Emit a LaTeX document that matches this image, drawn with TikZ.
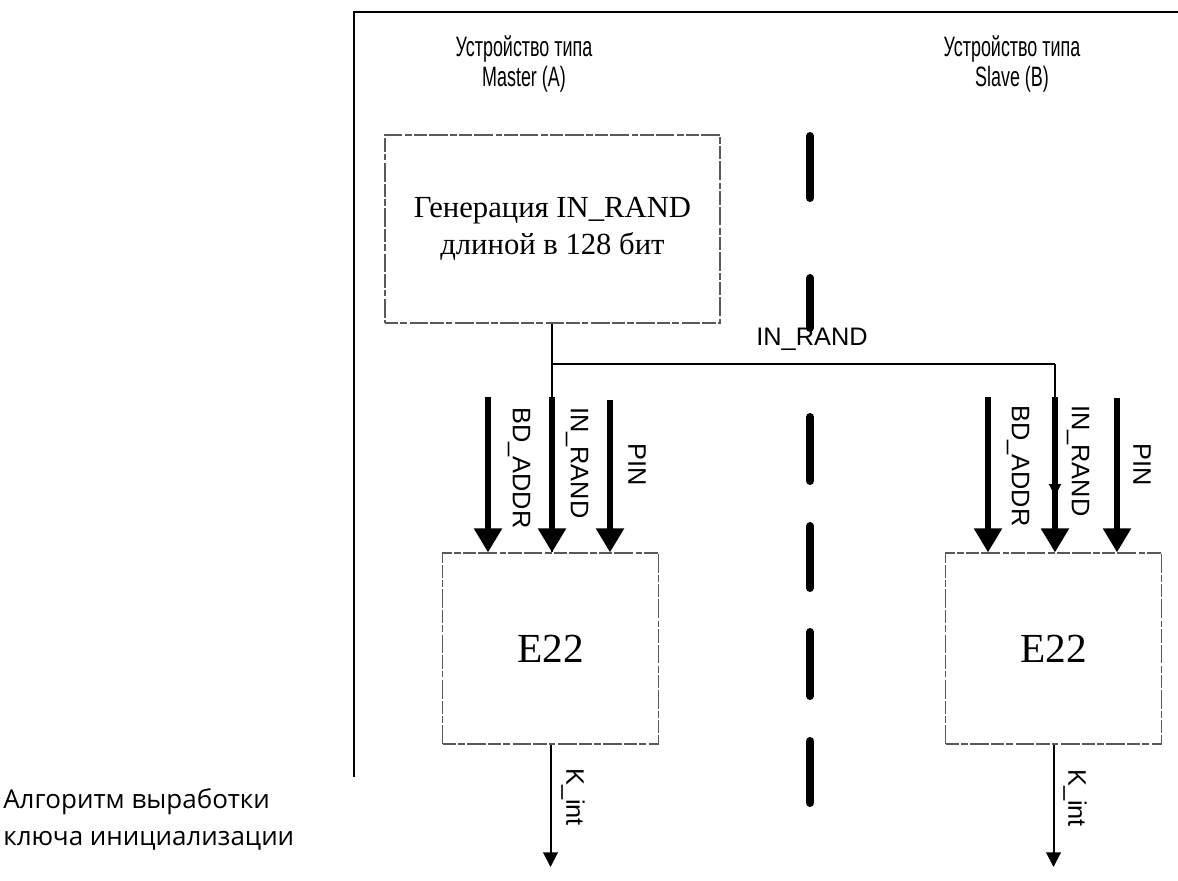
\documentclass[tikz,border=0pt]{standalone}
\usepackage{graphicx}
\usepackage{fontspec}
\setmainfont{Liberation Serif}
\setsansfont{Liberation Sans}
\newfontfamily\capfont{Open Sans}
\usetikzlibrary{arrows.meta}
\begin{document}
\begin{tikzpicture}[x=0.75pt,y=-0.75pt,
  frameline/.style={line width=1.5pt},
  dbox/.style={draw=black!65, line width=0.8pt, dash pattern=on 10pt off 1.5pt on 5pt off 2pt on 14pt off 1.5pt, inner sep=0pt},
  genbox/.style={dbox, minimum width=251.25pt, minimum height=141pt, align=center, font=\fontsize{23}{27.5}\selectfont},
  ebox/.style={dbox, minimum width=162pt, minimum height=143.25pt, font=\fontsize{31}{33}\selectfont},
  conn/.style={line width=1.5pt},
  thickarrow/.style={line width=4.5pt, -{Triangle[width=20pt,length=18pt]}},
  thinarrow/.style={line width=1.5pt, -{Triangle[width=11pt,length=11pt]}},
  smallarrow/.style={line width=1.5pt, -{Triangle[width=9pt,length=9pt]}},
  cline/.style={line width=6pt, line cap=round},
  vlabel/.style={font=\sffamily\fontsize{19}{22}\selectfont, rotate=-90, inner sep=0pt},
  hlabel/.style={font=\sffamily\fontsize{19}{22}\selectfont, inner sep=0pt},
  title/.style={font=\sffamily\fontsize{21}{22.5}\selectfont, align=center, inner sep=0pt},
  caption/.style={font=\capfont\fontsize{19.5}{27.75}\selectfont, align=left, inner sep=0pt}
]
\useasboundingbox (0,0) rectangle (1178,881);

% frame
\coordinate (fTR) at (1178,12);
\coordinate (fTL) at (354,12);
\coordinate (fBL) at (354,777);
\draw[frameline] (fTR) -- (fTL) -- (fBL);

% titles
\node[title] (tA) at (524,64) {\scalebox{0.64}[1]{Устройство типа}\\\scalebox{0.64}[1]{Master (A)}};
\node[title] (tB) at (1012,64) {\scalebox{0.64}[1]{Устройство типа}\\\scalebox{0.64}[1]{Slave (B)}};

% boxes
\node[genbox] (gen) at (552.5,229) {Генерация IN\_RAND\\длиной в 128 бит};
\node[ebox] (eA) at (550.5,648.5) {E22};
\node[ebox] (eB) at (1053.5,648.5) {E22};

% central dashed divider
\coordinate (c1a) at (810,136); \coordinate (c1b) at (810,198);
\coordinate (c2a) at (810,278); \coordinate (c2b) at (810,328);
\coordinate (c3a) at (810,417); \coordinate (c3b) at (810,481);
\coordinate (c4a) at (810,526); \coordinate (c4b) at (810,588);
\coordinate (c5a) at (810,632); \coordinate (c5b) at (810,696);
\coordinate (c6a) at (810,741); \coordinate (c6b) at (810,803);
\draw[cline] (c1a) -- (c1b);
\draw[cline] (c2a) -- (c2b);
\draw[cline] (c3a) -- (c3b);
\draw[cline] (c4a) -- (c4b);
\draw[cline] (c5a) -- (c5b);
\draw[cline] (c6a) -- (c6b);

% IN_RAND distribution
\coordinate (jA) at (552,364);
\coordinate (jB) at (1055,364);
\coordinate (jBend) at (1055,496);
\draw[conn] (gen.south -| jA) -- (jA) -- (eA.north -| jA);
\node[hlabel] (lIN) at (812,339) {IN\_RAND};

% left inputs
\coordinate (bdA) at (488,397);
\coordinate (inA) at (552,397);
\coordinate (pinA) at (610,400);
\draw[thickarrow] (bdA) -- (eA.north -| bdA);
\draw[thickarrow] (inA) -- (eA.north -| inA);
\draw[thickarrow] (pinA) -- (eA.north -| pinA);
\node[vlabel, anchor=west] (lbdA) at (519,407) {BD\_ADDR};
\node[vlabel, anchor=west] (linA) at (577,407) {IN\_RAND};
\node[vlabel] (lpinA) at (637,465) {PIN};

% right inputs
\coordinate (bdB) at (988,397);
\coordinate (inB) at (1055,397);
\coordinate (pinB) at (1117,398);
\draw[thickarrow] (bdB) -- (eB.north -| bdB);
\draw[thickarrow] (inB) -- (eB.north -| inB);
\draw[thickarrow] (pinB) -- (eB.north -| pinB);
\draw[conn] (jA) -- (jB);
\draw[smallarrow] (jB) -- (jBend);
\node[vlabel, anchor=west] (lbdB) at (1018,405) {BD\_ADDR};
\node[vlabel, anchor=west] (linB) at (1078,405) {IN\_RAND};
\node[vlabel] (lpinB) at (1142,465) {PIN};

% outputs
\coordinate (kA) at (550.5,867);
\coordinate (kB) at (1053.5,867);
\draw[thinarrow] (eA.south) -- (kA);
\draw[thinarrow] (eB.south) -- (kB);
\node[vlabel, anchor=west] (lkA) at (573,768) {K\_int};
\node[vlabel, anchor=west] (lkB) at (1075,769) {K\_int};

% caption
\node[caption, anchor=north west] (cap) at (3,788) {Алгоритм выработки\\ключа инициализации};
\end{tikzpicture}
\end{document}
